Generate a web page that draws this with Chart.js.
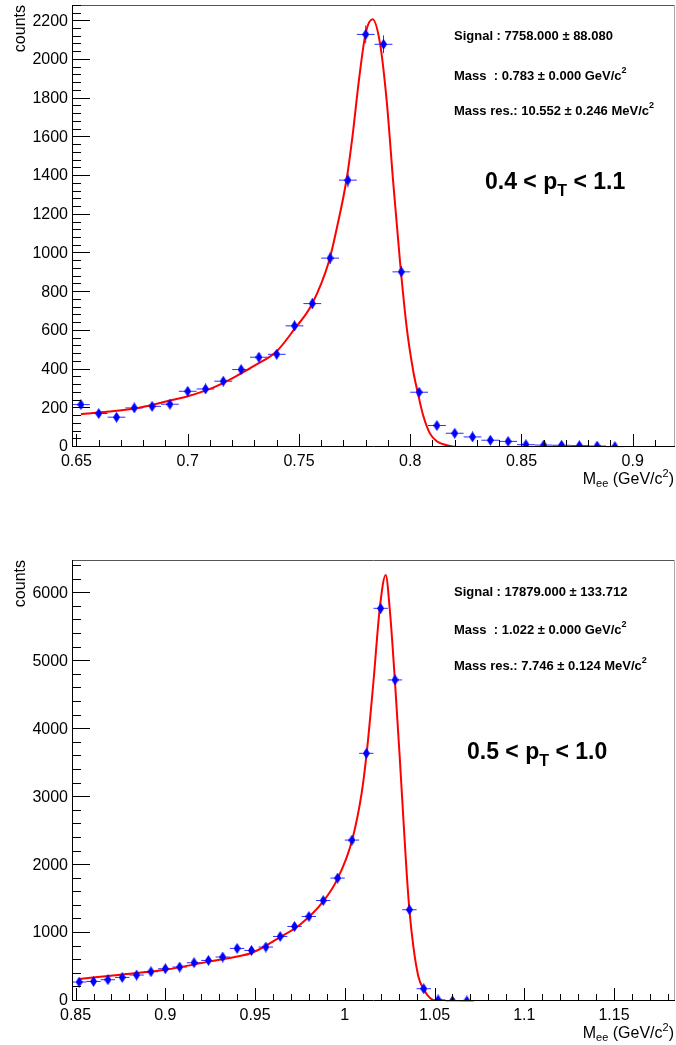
<!DOCTYPE html>
<html>
<head>
<meta charset="utf-8">
<script src="https://cdn.jsdelivr.net/npm/chart.js@4.4.1/dist/chart.umd.min.js"></script>
<style>
  html, body { margin: 0; padding: 0; background: #fff; overflow: hidden; }
  canvas { position: absolute; left: 0; display: block; }
  #topChart { top: 0; }
  #botChart { top: 522px; }
</style>
</head>
<body>
<canvas id="topChart" width="676" height="522"></canvas>
<canvas id="botChart" width="676" height="523"></canvas>
<script>
// ================= TOP PANEL : 0.4 < pT < 1.1 =================
const topCenters = [0.652, 0.660, 0.668, 0.676, 0.684, 0.692, 0.700, 0.708, 0.716, 0.724,
                    0.732, 0.740, 0.748, 0.756, 0.764, 0.772, 0.780, 0.788, 0.796, 0.804,
                    0.812, 0.820, 0.828, 0.836, 0.844, 0.852, 0.860, 0.868, 0.876, 0.884, 0.892];
const topCounts = [219, 173, 154, 202, 210, 221, 288, 300, 340, 400,
                   464, 479, 626, 741, 976, 1379, 2132, 2081, 905, 283,
                   111, 71, 52, 35, 29, 12, 10, 9, 7, 5, 2];
const topErrors = [15, 13, 12, 14, 14, 15, 17, 17, 18, 20,
                   22, 22, 25, 27, 31, 37, 46, 46, 30, 17,
                   11, 8, 7, 6, 5, 3, 3, 3, 3, 2, 1];
const topFitX = [0.652, 0.676, 0.692, 0.700, 0.710, 0.720, 0.730, 0.740, 0.748, 0.7557,
                 0.7635, 0.767, 0.7715, 0.774, 0.777, 0.780, 0.7831, 0.7864, 0.7894, 0.7924,
                 0.7954, 0.7984, 0.8014, 0.8036, 0.8059, 0.8089, 0.8119, 0.8164, 0.8209, 0.919];
const topFitY = [169, 199, 240, 262, 300, 355, 420, 495, 610, 735,
                 960, 1130, 1390, 1600, 1900, 2140, 2210, 2087, 1792, 1362,
                 960, 620, 390, 270, 160, 69, 30, 9, 0, 0];
const topXTicks = [0.65, 0.7, 0.75, 0.8, 0.85, 0.9];
const topYTicks = [0, 200, 400, 600, 800, 1000, 1200, 1400, 1600, 1800, 2000, 2200];
const topInfo = ["Signal : 7758.000 \u00b1 88.080",
                 "Mass  : 0.783 \u00b1 0.000 GeV/c^2",
                 "Mass res.: 10.552 \u00b1 0.246 MeV/c^2"];
const topRange = ["0.4 < p", "T", " < 1.1"];

// ================= BOTTOM PANEL : 0.5 < pT < 1.0 =================
const botCenters = [0.852, 0.860, 0.868, 0.876, 0.884, 0.892, 0.900, 0.908, 0.916, 0.924,
                    0.932, 0.940, 0.948, 0.956, 0.964, 0.972, 0.980, 0.988, 0.996, 1.004,
                    1.012, 1.020, 1.028, 1.036, 1.044, 1.052, 1.060, 1.068];
const botCounts = [279, 288, 313, 347, 382, 431, 475, 500, 563, 597,
                   647, 774, 744, 794, 950, 1097, 1244, 1479, 1809, 2368,
                   3645, 5779, 4725, 1343, 181, 17, 3, 1];
const botErrors = [17, 17, 18, 19, 20, 21, 22, 22, 24, 24,
                   25, 28, 27, 28, 31, 33, 35, 38, 43, 49,
                   60, 76, 69, 37, 13, 4, 2, 1];
const botFitX = [0.852, 0.875, 0.900, 0.925, 0.940, 0.948, 0.964, 0.975, 0.988, 0.996,
                 1.004, 1.0094, 1.0122, 1.0159, 1.0196, 1.0228, 1.0251, 1.0279, 1.0307, 1.0329,
                 1.0345, 1.036, 1.0382, 1.041, 1.0441, 1.0475, 1.0512, 1.15];
const botFitY = [323, 387, 460, 583, 656, 706, 941, 1122, 1465, 1800,
                 2360, 3059, 3647, 4676, 5803, 6269, 5754, 4725, 3549, 2568,
                 1880, 1343, 803, 362, 166, 44, 0, 0];
const botXTicks = [0.85, 0.9, 0.95, 1, 1.05, 1.1, 1.15];
const botYTicks = [0, 1000, 2000, 3000, 4000, 5000, 6000];
const botInfo = ["Signal : 17879.000 \u00b1 133.712",
                 "Mass  : 1.022 \u00b1 0.000 GeV/c^2",
                 "Mass res.: 7.746 \u00b1 0.124 MeV/c^2"];
const botRange = ["0.5 < p", "T", " < 1.0"];

const FONT = "'Liberation Sans', Arial, Helvetica, sans-serif";

// blue diamond marker (ROOT style)
const diamond = document.createElement("canvas");
diamond.width = 7; diamond.height = 11;
(function () {
    const c = diamond.getContext("2d");
    c.fillStyle = "#0000ff";
    c.beginPath();
    c.moveTo(3.5, 0); c.lineTo(7, 5.5); c.lineTo(3.5, 11); c.lineTo(0, 5.5);
    c.closePath(); c.fill();
})();

function drawRich(ctx, x, y, parts) {
    let cx = x;
    ctx.textBaseline = "middle";
    ctx.textAlign = "left";
    for (const p of parts) {
        ctx.font = (p.bold ? "bold " : "") + p.size + "px " + FONT;
        ctx.fillText(p.t, cx, y + (p.dy || 0));
        cx += ctx.measureText(p.t).width;
    }
    return cx - x;
}

function richWidth(ctx, parts) {
    let w = 0;
    for (const p of parts) {
        ctx.font = (p.bold ? "bold " : "") + p.size + "px " + FONT;
        w += ctx.measureText(p.t).width;
    }
    return w;
}

function makePanel(canvasId, p) {
    const framePlugin = {
        id: "rootFrame",
        beforeDatasetsDraw(chart) {
            // error bars
            const ctx = chart.ctx, xs = chart.scales.x, ys = chart.scales.y;
            ctx.save();
            ctx.strokeStyle = "#2b2bff";
            ctx.lineWidth = 1;
            for (let i = 0; i < p.centers.length; i++) {
                const px = xs.getPixelForValue(p.centers[i]);
                const py = ys.getPixelForValue(p.counts[i]);
                ctx.beginPath();
                ctx.moveTo(xs.getPixelForValue(p.centers[i] - p.halfBin), py);
                ctx.lineTo(xs.getPixelForValue(p.centers[i] + p.halfBin), py);
                ctx.moveTo(px, ys.getPixelForValue(Math.max(0, p.counts[i] - p.errors[i])));
                ctx.lineTo(px, ys.getPixelForValue(p.counts[i] + p.errors[i]));
                ctx.stroke();
            }
            ctx.restore();
        },
        afterDraw(chart) {
            const ctx = chart.ctx, a = chart.chartArea;
            const xs = chart.scales.x, ys = chart.scales.y;
            ctx.save();
            // frame
            ctx.lineWidth = 1;
            ctx.strokeStyle = "#555";
            ctx.beginPath(); ctx.moveTo(a.left, a.top + 0.5); ctx.lineTo(a.right, a.top + 0.5); ctx.stroke();
            ctx.strokeStyle = "#aaa";
            ctx.beginPath(); ctx.moveTo(a.right - 0.5, a.top); ctx.lineTo(a.right - 0.5, a.bottom); ctx.stroke();
            ctx.strokeStyle = "#000";
            ctx.beginPath();
            ctx.moveTo(a.left + 0.5, a.top); ctx.lineTo(a.left + 0.5, a.bottom);
            ctx.moveTo(a.left, a.bottom - 0.5); ctx.lineTo(a.right, a.bottom - 0.5);
            ctx.stroke();
            // y ticks
            ctx.beginPath();
            let k0 = Math.ceil(ys.min / p.yMinor - 1e-9), k1 = Math.floor(ys.max / p.yMinor + 1e-9);
            for (let k = k0; k <= k1; k++) {
                const v = k * p.yMinor;
                const major = Math.abs(v / p.yMajor - Math.round(v / p.yMajor)) < 1e-6;
                const py = Math.round(ys.getPixelForValue(v)) - 0.5;
                ctx.moveTo(a.left, py); ctx.lineTo(a.left + (major ? 18 : 9), py);
            }
            // x ticks
            k0 = Math.ceil(xs.min / p.xMinor - 1e-9); k1 = Math.floor(xs.max / p.xMinor + 1e-9);
            for (let k = k0; k <= k1; k++) {
                const v = k * p.xMinor;
                const major = Math.abs(v / p.xMajor - Math.round(v / p.xMajor)) < 1e-6;
                const px = Math.round(xs.getPixelForValue(v)) + 0.5;
                ctx.moveTo(px, a.bottom); ctx.lineTo(px, a.bottom - (major ? 13 : 7));
            }
            ctx.stroke();
            // axis titles
            ctx.fillStyle = "#000";
            ctx.save();
            ctx.translate(21, a.top);
            ctx.rotate(-Math.PI / 2);
            ctx.font = "16px " + FONT;
            ctx.textAlign = "right";
            ctx.textBaseline = "middle";
            ctx.fillText("counts", 0, 0);
            ctx.restore();
            const xt = [
                { t: "M", size: 16 }, { t: "ee", size: 11, dy: 4 },
                { t: " (GeV/c", size: 16 }, { t: "2", size: 11, dy: -6 }, { t: ")", size: 16 }
            ];
            drawRich(ctx, 674 - richWidth(ctx, xt), a.bottom + 33, xt);
            // fit info
            for (let i = 0; i < p.info.length; i++) {
                const s = p.info[i];
                const parts = s.endsWith("^2")
                    ? [{ t: s.slice(0, -2), size: 13, bold: true }, { t: "2", size: 9, bold: true, dy: -5 }]
                    : [{ t: s, size: 13, bold: true }];
                drawRich(ctx, 454, p.infoY[i], parts);
            }
            drawRich(ctx, p.rangeX, p.rangeY, [
                { t: p.range[0], size: 23, bold: true },
                { t: p.range[1], size: 16, bold: true, dy: 9 },
                { t: p.range[2], size: 23, bold: true }
            ]);
            ctx.restore();
        }
    };

    return new Chart(document.getElementById(canvasId), {
        type: "scatter",
        data: {
            datasets: [
                {
                    label: "data",
                    data: p.centers.map((x, i) => ({ x: x, y: p.counts[i] })),
                    pointStyle: diamond,
                    pointRadius: 5,
                    showLine: false
                },
                {
                    label: "fit",
                    data: p.fitX.map((x, i) => ({ x: x, y: p.fitY[i] })),
                    showLine: true,
                    borderColor: "#ff0000",
                    borderWidth: 2,
                    pointRadius: 0,
                    cubicInterpolationMode: "monotone",
                    fill: false
                }
            ]
        },
        options: {
            responsive: false,
            animation: false,
            layout: { autoPadding: false, padding: { top: p.padTop, right: 1, left: 0, bottom: 0 } },
            plugins: { legend: { display: false }, tooltip: { enabled: false } },
            scales: {
                x: {
                    type: "linear",
                    min: p.xMin, max: p.xMax,
                    afterFit(s) { s.height = p.xAxisH; s.paddingLeft = 0; s.paddingRight = 0; },
                    afterBuildTicks(s) { s.ticks = p.xTicks.map(v => ({ value: v })); },
                    grid: { display: false, drawTicks: false },
                    border: { display: false },
                    ticks: {
                        autoSkip: false, maxRotation: 0,
                        padding: 5, color: "#000", font: { family: FONT, size: 16 },
                        callback: v => String(v)
                    }
                },
                y: {
                    type: "linear",
                    min: 0, max: p.yMax,
                    afterFit(s) { s.width = 72; s.paddingTop = 0; s.paddingBottom = 0; },
                    afterBuildTicks(s) { s.ticks = p.yTicks.map(v => ({ value: v })); },
                    grid: { display: false, drawTicks: false },
                    border: { display: false },
                    ticks: {
                        autoSkip: false,
                        padding: 4, color: "#000", font: { family: FONT, size: 16 },
                        callback: v => String(v)
                    }
                }
            }
        },
        plugins: [framePlugin]
    });
}

makePanel("topChart", {
    centers: topCenters, counts: topCounts, errors: topErrors, halfBin: 0.004,
    fitX: topFitX, fitY: topFitY, info: topInfo, range: topRange,
    xTicks: topXTicks, yTicks: topYTicks,
    xMin: 0.648, xMax: 0.919, xMajor: 0.05, xMinor: 0.01,
    yMax: 2284, yMajor: 200, yMinor: 40,
    padTop: 5, xAxisH: 75,
    infoY: [36, 76, 111], rangeX: 485, rangeY: 183
});

makePanel("botChart", {
    centers: botCenters, counts: botCounts, errors: botErrors, halfBin: 0.004,
    fitX: botFitX, fitY: botFitY, info: botInfo, range: botRange,
    xTicks: botXTicks, yTicks: botYTicks,
    xMin: 0.848, xMax: 1.184, xMajor: 0.05, xMinor: 0.01,
    yMax: 6490, yMajor: 1000, yMinor: 200,
    padTop: 38, xAxisH: 44,
    infoY: [70, 108, 144], rangeX: 467, rangeY: 231
});
</script>
</body>
</html>
